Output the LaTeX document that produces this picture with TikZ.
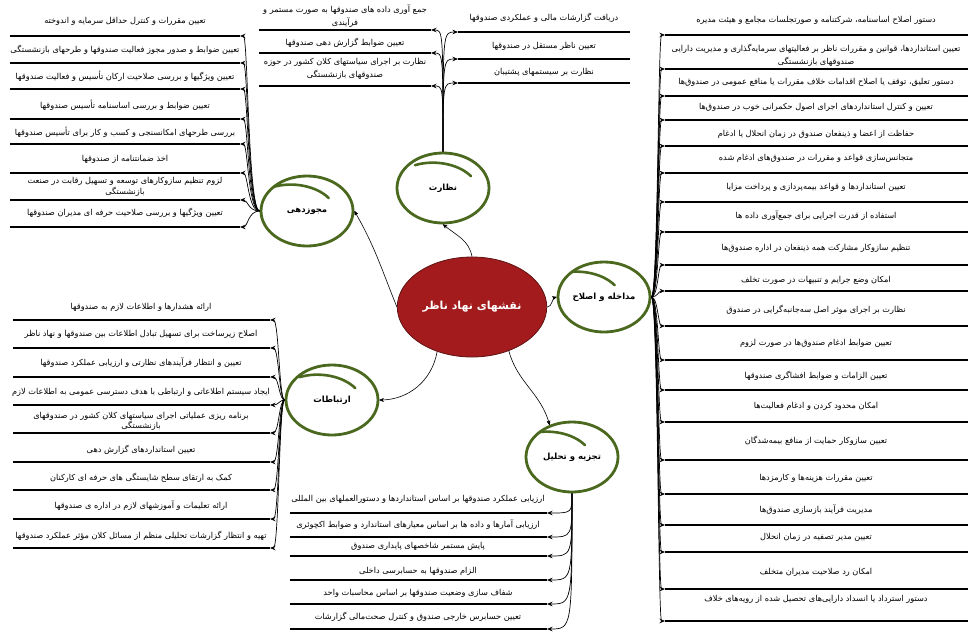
\documentclass[tikz,border=0pt]{standalone}
\usepackage{fontspec}
\usepackage{tikz}
\usetikzlibrary{arrows,arrows.meta,shapes.geometric}
\TeXXeTstate=1
\newfontfamily\fa[Script=Arabic]{DejaVu Sans}
\newcommand\rtl[1]{\beginR#1\endR}
\definecolor{root_red}{RGB}{163,27,29}
\definecolor{edge_red}{RGB}{95,20,20}
\definecolor{ring_green}{RGB}{74,104,30}
\tikzset{
  hfan/.style={-{Stealth[length=5.5pt,width=4.5pt]}, line width=0.7pt, to path={.. controls (\tikztostart -| #1) and (\tikztotarget -| #1) .. (\tikztotarget)}},
  vfan/.style={-{Stealth[length=5.5pt,width=4.5pt]}, line width=0.7pt, to path={.. controls (\tikztostart |- \tikztotarget) and (\tikztostart |- \tikztotarget) .. (\tikztotarget)}}
}

\begin{document}
\begin{tikzpicture}[x=1pt,y=1pt,>=stealth']
    \tikzstyle{root}=[ellipse, draw=edge_red, fill=root_red, line width=0.8pt, minimum width=124pt, minimum height=100pt, text=white, font=\fa\bfseries\fontsize{11}{13}\selectfont]
    \tikzstyle{topic}=[ellipse, draw=ring_green, line width=2.8pt, minimum width=92pt, minimum height=70pt, inner sep=0pt, font=\fa\bfseries\fontsize{8.5}{10}\selectfont,
        path picture={\draw[ring_green, line width=2.6pt, line cap=round, shift={(path picture bounding box.center)}] (-14,25) .. controls (6,31) and (30,26) .. (42,14);}]
    \tikzstyle{leaf}=[font=\fa\fontsize{8.2}{11}\selectfont, align=center, inner sep=0pt]
    \tikzstyle{bar}=[fill=black, inner sep=0pt, outer sep=0pt, minimum height=2.8pt]
    \tikzstyle{mjbar}=[bar, minimum width=230pt]
    \tikzstyle{nzbar}=[bar, minimum width=172pt]
    \tikzstyle{mdbar}=[bar, minimum width=303pt]
    \tikzstyle{irbar}=[bar, minimum width=257pt]
    \tikzstyle{main}=[->, semithick]

    \path[use as bounding box, fill=white] (0,0) rectangle (968,-632);

    \node[root]  (root) at (472,-307) {\rtl{نقشهای نهاد ناظر}};
    \node[topic] (nz)   at (443,-188) {\rtl{نظارت}};
    \node[topic] (mj)   at (307,-211) {\rtl{مجوزدهی}};
    \node[topic] (md)   at (604,-297) {\rtl{مداخله و اصلاح}};
    \node[topic] (ir)   at (332,-400) {\rtl{ارتباطات}};
    \node[topic] (tj)   at (572,-457) {\rtl{تجزیه و تحلیل}};
    \coordinate (mjx) at (248,0);
    \coordinate (irx) at (279,0);
    \coordinate (mdx) at (658,0);

    % mojavvez-dehi
    \node[leaf] (m1t) at (125,-21)  {\rtl{تعیین مقررات و کنترل حداقل سرمایه و اندوخته}};                 \node[mjbar] (m1) at (125,-36) {};
    \node[leaf] (m2t) at (125,-50)  {\rtl{تعیین ضوابط و صدور مجوز فعالیت صندوقها و طرحهای بازنشستگی}};    \node[mjbar] (m2) at (125,-63) {};
    \node[leaf] (m3t) at (125,-76)  {\rtl{تعیین ویژگیها و بررسی صلاحیت ارکان تأسیس و فعالیت صندوقها}};     \node[mjbar] (m3) at (125,-89) {};
    \node[leaf] (m4t) at (125,-105) {\rtl{تعیین ضوابط و بررسی اساسنامه تأسیس صندوقها}};                   \node[mjbar] (m4) at (125,-119) {};
    \node[leaf] (m5t) at (125,-132) {\rtl{بررسی طرحهای امکانسنجی و کسب و کار برای تأسیس صندوقها}};        \node[mjbar] (m5) at (125,-144) {};
    \node[leaf] (m6t) at (125,-159) {\rtl{اخذ ضمانتنامه از صندوقها}};                                     \node[mjbar] (m6) at (125,-173) {};
    \node[leaf] (m7t) at (125,-187) {\rtl{لزوم تنظیم سازوکارهای توسعه و تسهیل رقابت در صنعت}\\\rtl{بازنشستگی}}; \node[mjbar] (m7) at (125,-200) {};
    \node[leaf] (m8t) at (125,-213) {\rtl{تعیین ویژگیها و بررسی صلاحیت حرفه ای مدیران صندوقها}};          \node[mjbar] (m8) at (125,-227) {};

    % nezarat
    \node[leaf] (n1t) at (345,-16) {\rtl{جمع آوری داده های صندوقها به صورت مستمر و}\\[2pt]\rtl{فرآیندی}};   \node[nzbar] (n1) at (345,-30) {};
    \node[leaf] (n2t) at (345,-43) {\rtl{تعیین ضوابط گزارش دهی صندوقها}};                                 \node[nzbar] (n2) at (345,-53) {};
    \node[leaf] (n3t) at (345,-69) {\rtl{نظارت بر اجرای سیاستهای کلان کشور در حوزه}\\[2pt]\rtl{صندوقهای بازنشستگی}}; \node[nzbar] (n3) at (345,-86) {};
    \node[leaf] (n4t) at (544,-18) {\rtl{دریافت گزارشات مالی و عملکردی صندوقها}};                         \node[nzbar] (n4) at (544,-32) {};
    \node[leaf] (n5t) at (544,-46) {\rtl{تعیین ناظر مستقل در صندوقها}};                                   \node[nzbar] (n5) at (544,-59) {};
    \node[leaf] (n6t) at (544,-72) {\rtl{نظارت بر سیستمهای پشتیبان}};                                     \node[nzbar] (n6) at (544,-83) {};

    % modakhele va eslah
    \node[leaf] (r1t)  at (816,-20)  {\rtl{دستور اصلاح اساسنامه، شرکتنامه و صورتجلسات مجامع و هیئت مدیره}};  \node[mdbar] (r1)  at (816.5,-35) {};
    \node[leaf] (r2t)  at (816,-55)  {\rtl{تعیین استانداردها، قوانین و مقررات ناظر بر فعالیتهای سرمایه‌گذاری و مدیریت دارایی}\\[2pt]\rtl{صندوقهای بازنشستگی}}; \node[mdbar] (r2) at (816.5,-69) {};
    \node[leaf] (r3t)  at (816,-82)  {\rtl{دستور تعلیق، توقف یا اصلاح اقدامات خلاف مقررات یا منافع عمومی در صندوق‌ها}}; \node[mdbar] (r3) at (816.5,-96) {};
    \node[leaf] (r4t)  at (816,-107) {\rtl{تعیین و کنترل استانداردهای اجرای اصول حکمرانی خوب در صندوق‌ها}};  \node[mdbar] (r4)  at (816.5,-120) {};
    \node[leaf] (r5t)  at (816,-134) {\rtl{حفاظت از اعضا و ذینفعان صندوق در زمان انحلال یا ادغام}};          \node[mdbar] (r5)  at (816.5,-146) {};
    \node[leaf] (r6t)  at (816,-158) {\rtl{متجانس‌سازی قواعد و مقررات در صندوق‌های ادغام شده}};             \node[mdbar] (r6)  at (816.5,-173) {};
    \node[leaf] (r7t)  at (816,-187) {\rtl{تعیین استانداردها و قواعد بیمه‌پردازی و پرداخت مزایا}};           \node[mdbar] (r7)  at (816.5,-202) {};
    \node[leaf] (r8t)  at (816,-216) {\rtl{استفاده از قدرت اجرایی برای جمع‌آوری داده ها}};                  \node[mdbar] (r8)  at (816.5,-232) {};
    \node[leaf] (r9t)  at (816,-248) {\rtl{تنظیم سازوکار مشارکت همه ذینفعان در اداره صندوق‌ها}};            \node[mdbar] (r9)  at (816.5,-265) {};
    \node[leaf] (r10t) at (816,-280) {\rtl{امکان وضع جرایم و تنبیهات در صورت تخلف}};                        \node[mdbar] (r10) at (816.5,-291) {};
    \node[leaf] (r11t) at (816,-310) {\rtl{نظارت بر اجرای موثر اصل سه‌جانبه‌گرایی در صندوق}};               \node[mdbar] (r11) at (816.5,-326) {};
    \node[leaf] (r12t) at (816,-343) {\rtl{تعیین ضوابط ادغام صندوق‌ها در صورت لزوم}};                      \node[mdbar] (r12) at (816.5,-360) {};
    \node[leaf] (r13t) at (816,-376) {\rtl{تعیین الزامات و ضوابط افشاگری صندوقها}};                          \node[mdbar] (r13) at (816.5,-390) {};
    \node[leaf] (r14t) at (816,-406) {\rtl{امکان محدود کردن و ادغام فعالیت‌ها}};                            \node[mdbar] (r14) at (816.5,-422) {};
    \node[leaf] (r15t) at (816,-441) {\rtl{تعیین سازوکار حمایت از منافع بیمه‌شدگان}};                       \node[mdbar] (r15) at (816.5,-460) {};
    \node[leaf] (r16t) at (816,-478) {\rtl{تعیین مقررات هزینه‌ها و کارمزدها}};                              \node[mdbar] (r16) at (816.5,-494) {};
    \node[leaf] (r17t) at (816,-510) {\rtl{مدیریت فرآیند بازسازی صندوق‌ها}};                                \node[mdbar] (r17) at (816.5,-525) {};
    \node[leaf] (r18t) at (816,-537) {\rtl{تعیین مدیر تصفیه در زمان انحلال}};                               \node[mdbar] (r18) at (816.5,-552) {};
    \node[leaf] (r19t) at (816,-572) {\rtl{امکان رد صلاحیت مدیران متخلف}};                                  \node[mdbar] (r19) at (816.5,-589) {};
    \node[leaf] (r20t) at (816,-599) {\rtl{دستور استرداد یا انسداد دارایی‌های تحصیل شده از رویه‌های خلاف}};  \node[mdbar] (r20) at (816.5,-621) {};

    % ertebatat
    \node[leaf] (i1t) at (141,-307) {\rtl{ارائه هشدارها و اطلاعات لازم به صندوقها}};                         \node[irbar] (i1) at (141.5,-320) {};
    \node[leaf] (i2t) at (141,-334) {\rtl{اصلاح زیرساخت برای تسهیل تبادل اطلاعات بین صندوقها و نهاد ناظر}};  \node[irbar] (i2) at (141.5,-348) {};
    \node[leaf] (i3t) at (141,-363) {\rtl{تعیین و انتظار فرآیندهای نظارتی و ارزیابی عملکرد صندوقها}};        \node[irbar] (i3) at (141.5,-377) {};
    \node[leaf] (i4t) at (141,-392) {\rtl{ایجاد سیستم اطلاعاتی و ارتباطی با هدف دسترسی عمومی به اطلاعات لازم}}; \node[irbar] (i4) at (141.5,-405) {};
    \node[leaf] (i5t) at (141,-421) {\rtl{برنامه ریزی عملیاتی اجرای سیاستهای کلان کشور در صندوقهای}\\[-1pt]\rtl{بازنشستگی}}; \node[irbar] (i5) at (141.5,-433) {};
    \node[leaf] (i6t) at (141,-450) {\rtl{تعیین استانداردهای گزارش دهی}};                                    \node[irbar] (i6) at (141.5,-462) {};
    \node[leaf] (i7t) at (141,-478) {\rtl{کمک به ارتقای سطح شایستگی های حرفه ای کارکنان}};                   \node[irbar] (i7) at (141.5,-490) {};
    \node[leaf] (i8t) at (141,-506) {\rtl{ارائه تعلیمات و آموزشهای لازم در اداره ی صندوقها}};                \node[irbar] (i8) at (141.5,-519) {};
    \node[leaf] (i9t) at (141,-536) {\rtl{تهیه و انتظار گزارشات تحلیلی منظم از مسائل کلان مؤثر عملکرد صندوقها}}; \node[irbar] (i9) at (141.5,-548) {};

    % tajziye va tahlil
    \node[leaf] (t1t) at (418,-499) {\rtl{ارزیابی عملکرد صندوقها بر اساس استانداردها و دستورالعملهای بین المللی}}; \node[irbar] (t1) at (418.5,-513) {};
    \node[leaf] (t2t) at (418,-525) {\rtl{ارزیابی آمارها و داده ها بر اساس معیارهای استاندارد و ضوابط اکچوئری}};   \node[irbar] (t2) at (418.5,-537) {};
    \node[leaf] (t3t) at (418,-546) {\rtl{پایش مستمر شاخصهای پایداری صندوق}};                                   \node[irbar] (t3) at (418.5,-556) {};
    \node[leaf] (t4t) at (418,-571) {\rtl{الزام صندوقها به حسابرسی داخلی}};                                     \node[irbar] (t4) at (418.5,-580) {};
    \node[leaf] (t5t) at (418,-593) {\rtl{شفاف سازی وضعیت صندوقها بر اساس محاسبات واحد}};                      \node[irbar] (t5) at (418.5,-604) {};
    \node[leaf] (t6t) at (418,-617) {\rtl{تعیین حسابرس خارجی صندوق و کنترل صحت‌مالی گزارشات}};                \node[irbar] (t6) at (418.5,-629) {};

    \path
     (root.north) edge[main, out=100, in=-40] (nz.south)
     (root.west)  edge[main, out=112, in=-60] (mj.east)
     (root.east)  edge[main, out=0, in=195]   (md.west)
     (root.-128)  edge[main, out=-100, in=0]  (ir.east)
     (root.-50)   edge[main, out=-75, in=105] (tj.125)
     ;
    \path
     (mj) edge[hfan=mjx] (m1.east) (mj) edge[hfan=mjx] (m2.east) (mj) edge[hfan=mjx] (m3.east) (mj) edge[hfan=mjx] (m4.east)
     (mj) edge[hfan=mjx] (m5.east) (mj) edge[hfan=mjx] (m6.east) (mj) edge[hfan=mjx] (m7.east) (mj) edge[hfan=mjx] (m8.east)
     (nz) edge[vfan] (n1.east) (nz) edge[vfan] (n2.east) (nz) edge[vfan] (n3.east)
     (nz) edge[vfan] (n4.west) (nz) edge[vfan] (n5.west) (nz) edge[vfan] (n6.west)
     (md) edge[hfan=mdx] (r1.west)  (md) edge[hfan=mdx] (r2.west)  (md) edge[hfan=mdx] (r3.west)  (md) edge[hfan=mdx] (r4.west)
     (md) edge[hfan=mdx] (r5.west)  (md) edge[hfan=mdx] (r6.west)  (md) edge[hfan=mdx] (r7.west)  (md) edge[hfan=mdx] (r8.west)
     (md) edge[hfan=mdx] (r9.west)  (md) edge[hfan=mdx] (r10.west) (md) edge[hfan=mdx] (r11.west) (md) edge[hfan=mdx] (r12.west)
     (md) edge[hfan=mdx] (r13.west) (md) edge[hfan=mdx] (r14.west) (md) edge[hfan=mdx] (r15.west) (md) edge[hfan=mdx] (r16.west)
     (md) edge[hfan=mdx] (r17.west) (md) edge[hfan=mdx] (r18.west) (md) edge[hfan=mdx] (r19.west) (md) edge[hfan=mdx] (r20.west)
     (ir) edge[hfan=irx] (i1.east) (ir) edge[hfan=irx] (i2.east) (ir) edge[hfan=irx] (i3.east) (ir) edge[hfan=irx] (i4.east)
     (ir) edge[hfan=irx] (i5.east) (ir) edge[hfan=irx] (i6.east) (ir) edge[hfan=irx] (i7.east) (ir) edge[hfan=irx] (i8.east)
     (ir) edge[hfan=irx] (i9.east)
     (tj) edge[vfan] (t1.east) (tj) edge[vfan] (t2.east) (tj) edge[vfan] (t3.east)
     (tj) edge[vfan] (t4.east) (tj) edge[vfan] (t5.east) (tj) edge[vfan] (t6.east)
     ;
\end{tikzpicture}
\end{document}
